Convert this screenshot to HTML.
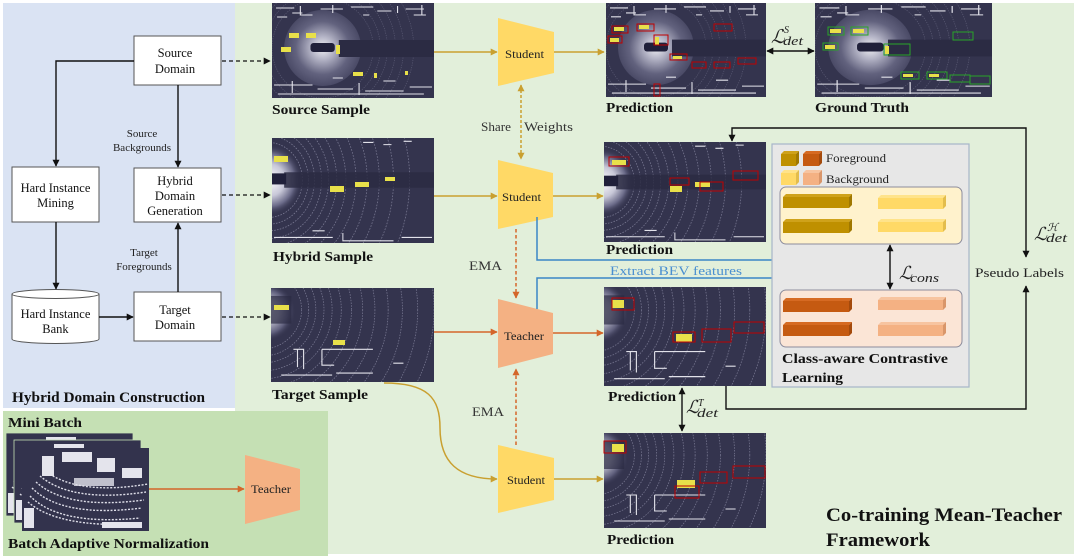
<!DOCTYPE html>
<html><head><meta charset="utf-8">
<style>
html,body{margin:0;padding:0;background:#fff;width:1080px;height:559px;overflow:hidden;}
svg{display:block;position:absolute;left:0;top:0;}
text{font-family:"Liberation Serif","DejaVu Serif",serif;}
.b{font-weight:bold;}
</style></head>
<body>
<svg width="1080" height="559" viewBox="0 0 1080 559" xmlns="http://www.w3.org/2000/svg">
<defs>
  <marker id="mk" viewBox="0 0 10 10" refX="9" refY="5" markerWidth="7" markerHeight="7" orient="auto-start-reverse" markerUnits="userSpaceOnUse"><path d="M0,0 L10,5 L0,10 z" fill="#111"/></marker>
  <marker id="mg" viewBox="0 0 10 10" refX="9" refY="5" markerWidth="7" markerHeight="7" orient="auto-start-reverse" markerUnits="userSpaceOnUse"><path d="M0,0 L10,5 L0,10 z" fill="#c9a030"/></marker>
  <marker id="mo" viewBox="0 0 10 10" refX="9" refY="5" markerWidth="7" markerHeight="7" orient="auto-start-reverse" markerUnits="userSpaceOnUse"><path d="M0,0 L10,5 L0,10 z" fill="#d4662a"/></marker>
  <marker id="mb" viewBox="0 0 10 10" refX="9" refY="5" markerWidth="7" markerHeight="7" orient="auto-start-reverse" markerUnits="userSpaceOnUse"><path d="M0,0 L10,5 L0,10 z" fill="#3b86c6"/></marker>
  <radialGradient id="gS" cx="0.5" cy="0.5" r="0.5">
    <stop offset="0" stop-color="#f0f0f4"/>
    <stop offset="0.3" stop-color="#b4b4c6"/>
    <stop offset="0.7" stop-color="#62627e"/>
    <stop offset="1" stop-color="#4a4a66"/>
  </radialGradient>
  <radialGradient id="gT" gradientUnits="userSpaceOnUse" cx="-2" cy="38" r="32">
    <stop offset="0" stop-color="#ffffff"/>
    <stop offset="0.45" stop-color="#c8c8d8"/>
    <stop offset="0.75" stop-color="#6a6a88"/>
    <stop offset="1" stop-color="#34344e" stop-opacity="0"/>
  </radialGradient>
  <radialGradient id="gU" gradientUnits="userSpaceOnUse" cx="-6" cy="24" r="30">
    <stop offset="0" stop-color="#ffffff"/>
    <stop offset="0.45" stop-color="#c8c8d8"/>
    <stop offset="0.75" stop-color="#6a6a88"/>
    <stop offset="1" stop-color="#34344e" stop-opacity="0"/>
  </radialGradient>

  <pattern id="rS" patternUnits="userSpaceOnUse" x="0" y="0" width="160" height="95">
    <g fill="none" stroke="#8c8ca6" stroke-width="0.6" opacity="0.45" stroke-dasharray="1.2 1.2">
      <circle cx="50" cy="45" r="50"/><circle cx="50" cy="45" r="57"/><circle cx="50" cy="45" r="64"/>
      <circle cx="50" cy="45" r="72"/><circle cx="50" cy="45" r="80"/><circle cx="50" cy="45" r="90"/>
    </g>
  </pattern>
  <pattern id="rT" patternUnits="userSpaceOnUse" x="0" y="0" width="160" height="95">
    <g fill="none" stroke="#a8a8c2" stroke-width="0.7" opacity="0.6" stroke-dasharray="1.5 1.3">
      <circle cx="-4" cy="38" r="34"/><circle cx="-4" cy="38" r="40"/><circle cx="-4" cy="38" r="46"/>
      <circle cx="-4" cy="38" r="53"/><circle cx="-4" cy="38" r="60"/><circle cx="-4" cy="38" r="68"/>
      <circle cx="-4" cy="38" r="77"/><circle cx="-4" cy="38" r="87"/><circle cx="-4" cy="38" r="98"/>
      <circle cx="-4" cy="38" r="110"/><circle cx="-4" cy="38" r="124"/><circle cx="-4" cy="38" r="140"/>
    </g>
  </pattern>
  <pattern id="rU" patternUnits="userSpaceOnUse" x="0" y="0" width="160" height="95">
    <g fill="none" stroke="#a8a8c2" stroke-width="0.7" opacity="0.6" stroke-dasharray="1.5 1.3">
      <circle cx="-10" cy="22" r="40"/><circle cx="-10" cy="22" r="47"/><circle cx="-10" cy="22" r="54"/>
      <circle cx="-10" cy="22" r="62"/><circle cx="-10" cy="22" r="70"/><circle cx="-10" cy="22" r="79"/>
      <circle cx="-10" cy="22" r="89"/><circle cx="-10" cy="22" r="100"/><circle cx="-10" cy="22" r="112"/>
      <circle cx="-10" cy="22" r="125"/><circle cx="-10" cy="22" r="139"/><circle cx="-10" cy="22" r="154"/>
      <circle cx="-10" cy="22" r="170"/>
    </g>
  </pattern>

  <symbol id="pcS" viewBox="0 0 160 95" preserveAspectRatio="none">
    <rect width="160" height="95" fill="#34344e"/>
    <rect width="160" height="95" fill="url(#rS)"/>
    <circle cx="50" cy="45" r="38" fill="url(#gS)"/>
    <rect x="66" y="37" width="94" height="17" fill="#2b2b43"/>
    <rect x="38" y="40" width="24" height="9" rx="3" fill="#20203a"/>
    <g stroke="#e2e2ea" stroke-width="1.1" fill="none">
      <path d="M4,5 H22 M28,3 V12 H40 M48,6 H70 M60,2 V10 M78,4 H100 M104,8 H118 M124,3 V10 M132,6 H150 M148,2 V12"/>
      <path d="M5,14 H15 M20,10 H30 M90,12 H96 M140,12 H152"/>
      <path d="M2,82 H40 M20,78 V90 M45,86 H80 M86,80 V92 M92,88 H130 M136,84 H158 M6,91 H150"/>
      <path d="M110,78 H122 M60,75 H70"/>
    </g>
  </symbol>

  <symbol id="pcT" viewBox="0 0 160 95" preserveAspectRatio="none">
    <rect width="160" height="95" fill="#34344e"/>
    <rect width="160" height="95" fill="url(#rT)"/>
    <rect x="0" y="6" width="30" height="64" fill="url(#gT)"/>
    <rect x="12" y="31" width="148" height="14" fill="#2b2b43" opacity="0.85"/>
    <rect x="0" y="32" width="14" height="10" fill="#20203a"/>
    <g stroke="#e2e2ea" stroke-width="1" fill="none">
      <path d="M2,90 H60 M70,86 V93 H120 M128,90 H158 M40,84 H52 M90,4 H100 M110,6 H118 M130,3 H138"/>
    </g>
  </symbol>

  <symbol id="pcU" viewBox="0 0 160 95" preserveAspectRatio="none">
    <rect width="160" height="95" fill="#34344e"/>
    <rect width="160" height="95" fill="url(#rU)"/>
    <rect x="0" y="0" width="24" height="54" fill="url(#gU)" opacity="0.8"/>
    <rect x="0" y="8" width="20" height="28" fill="#2b2b43" opacity="0.7"/>
    <g stroke="#e2e2ea" stroke-width="1.1" fill="none">
      <path d="M22,62 H32 V82 M26,62 V80 M50,62 H100 M50,62 V78 H62 M10,88 H60 M64,86 H100 M120,76 H130"/>
    </g>
  </symbol>

  <symbol id="pcM" viewBox="0 0 127 83" preserveAspectRatio="none">
    <rect width="127" height="83" fill="#33334d"/>
    <g fill="none" stroke="#dedee8" stroke-width="1.4" stroke-dasharray="2 1.5">
      <path d="M10,40 Q40,70 120,60"/><path d="M14,34 Q45,62 122,52"/><path d="M18,28 Q50,55 124,44"/>
      <path d="M22,22 Q55,48 126,36"/><path d="M8,48 Q38,78 118,70"/><path d="M6,54 Q36,80 116,76"/>
    </g>
    <g fill="#e4e4ec">
      <rect x="40" y="4" width="30" height="10"/><rect x="75" y="10" width="18" height="14"/>
      <rect x="20" y="8" width="12" height="20"/><rect x="100" y="20" width="20" height="10"/>
      <rect x="2" y="60" width="10" height="20"/><rect x="80" y="74" width="40" height="6"/>
      <rect x="52" y="30" width="40" height="8" opacity="0.8"/>
    </g>
  </symbol>
</defs>

<!-- panels -->
<rect x="3" y="3" width="232" height="405" fill="#dae3f3"/>
<rect x="235" y="3" width="839" height="551" fill="#e2efda"/>
<rect x="3" y="411" width="325" height="145" fill="#c5e0b4"/>

<!-- ============ LEFT PANEL ============ -->
<g fill="#fff" stroke="#555" stroke-width="1">
  <rect x="134" y="36" width="87" height="49"/>
  <rect x="12" y="167" width="87" height="55"/>
  <rect x="134" y="168" width="87" height="54"/>
  <rect x="134" y="292" width="87" height="49"/>
  <path d="M12,294 A43.5,4.5 0 0 1 99,294 L99,339 A43.5,4.5 0 0 1 12,339 Z"/>
  <path d="M12,294 A43.5,4.5 0 0 0 99,294" fill="none"/>
</g>
<g fill="#111" font-size="12.5" text-anchor="middle">
  <text x="175" y="57">Source</text>
  <text x="175" y="73">Domain</text>
  <text x="55.5" y="192">Hard Instance</text>
  <text x="55.5" y="207">Mining</text>
  <text x="175" y="185">Hybrid</text>
  <text x="175" y="200">Domain</text>
  <text x="175" y="215">Generation</text>
  <text x="55.5" y="318">Hard Instance</text>
  <text x="55.5" y="333">Bank</text>
  <text x="175" y="314">Target</text>
  <text x="175" y="329">Domain</text>
</g>
<g fill="#222" font-size="11" text-anchor="middle">
  <text x="142" y="137">Source</text>
  <text x="142" y="151">Backgrounds</text>
  <text x="144" y="256">Target</text>
  <text x="144" y="270">Foregrounds</text>
</g>
<g fill="none" stroke="#111" stroke-width="1.4">
  <path d="M134,61 H56 V166" marker-end="url(#mk)"/>
  <path d="M178,85 V167" marker-end="url(#mk)"/>
  <path d="M56,222 V289" marker-end="url(#mk)"/>
  <path d="M99,317 H133" marker-end="url(#mk)"/>
  <path d="M178,292 V223" marker-end="url(#mk)"/>
</g>
<g fill="none" stroke="#111" stroke-width="1.3" stroke-dasharray="4 3">
  <path d="M222,61 H270" marker-end="url(#mk)"/>
  <path d="M222,195 H270" marker-end="url(#mk)"/>
  <path d="M222,317 H270" marker-end="url(#mk)"/>
</g>
<text class="b" x="12" y="402" font-size="14.5" fill="#111" textLength="193" lengthAdjust="spacingAndGlyphs">Hybrid Domain Construction</text>

<!-- ============ BOTTOM-LEFT (BAN) ============ -->
<text class="b" x="8" y="427" font-size="14" fill="#111" textLength="74" lengthAdjust="spacingAndGlyphs">Mini Batch</text>
<use href="#pcM" x="6" y="433" width="127" height="83"/>
<rect x="6" y="433" width="127" height="83" fill="none" stroke="#c5e0b4" stroke-width="0.8"/>
<use href="#pcM" x="14" y="440" width="127" height="83"/>
<rect x="14" y="440" width="127" height="83" fill="none" stroke="#c5e0b4" stroke-width="0.8"/>
<use href="#pcM" x="22" y="448" width="127" height="83"/>
<path d="M149,489 H244" stroke="#d4662a" stroke-width="1.5" fill="none" marker-end="url(#mo)"/>
<polygon points="245,455 300,469 300,510 245,524" fill="#f4b183"/>
<text x="251" y="493" font-size="11.5" fill="#222" textLength="40" lengthAdjust="spacingAndGlyphs">Teacher</text>
<text class="b" x="8" y="548" font-size="14" fill="#111" textLength="201" lengthAdjust="spacingAndGlyphs">Batch Adaptive Normalization</text>

<!-- ============ SAMPLES ============ -->
<use href="#pcS" x="272" y="3" width="162" height="95"/>
<g fill="#e8e04a">
  <rect x="289" y="33" width="10" height="5"/><rect x="306" y="33" width="10" height="5"/>
  <rect x="281" y="47" width="10" height="5"/><rect x="336" y="45" width="4" height="9"/>
  <rect x="353" y="72" width="10" height="4"/><rect x="374" y="73" width="3" height="5"/><rect x="405" y="71" width="3" height="4"/>
</g>
<text class="b" x="272" y="114" font-size="14" fill="#111" textLength="98" lengthAdjust="spacingAndGlyphs">Source Sample</text>

<use href="#pcT" x="272" y="138" width="162" height="105"/>
<g fill="#e8e04a">
  <rect x="274" y="156" width="14" height="6"/><rect x="330" y="186" width="14" height="6"/>
  <rect x="355" y="182" width="14" height="5"/><rect x="385" y="177" width="10" height="4"/>
</g>
<text class="b" x="273" y="261" font-size="14" fill="#111" textLength="100" lengthAdjust="spacingAndGlyphs">Hybrid Sample</text>

<use href="#pcU" x="271" y="288" width="163" height="94"/>
<g fill="#e8e04a">
  <rect x="274" y="305" width="15" height="5"/><rect x="333" y="340" width="12" height="5"/>
</g>
<text class="b" x="272" y="399" font-size="14" fill="#111" textLength="96" lengthAdjust="spacingAndGlyphs">Target Sample</text>

<!-- ============ NETWORKS ============ -->
<polygon points="498,18 554,32 554,73 498,86" fill="#ffd966"/>
<text x="505" y="58" font-size="12" fill="#222" textLength="39" lengthAdjust="spacingAndGlyphs">Student</text>
<polygon points="498,160 553,173 553,217 498,229" fill="#ffd966"/>
<text x="502" y="201" font-size="12" fill="#222" textLength="39" lengthAdjust="spacingAndGlyphs">Student</text>
<polygon points="498,299 553,313 553,354 498,368" fill="#f4b183"/>
<text x="504" y="340" font-size="12" fill="#222" textLength="40" lengthAdjust="spacingAndGlyphs">Teacher</text>
<polygon points="498,445 554,458 554,500 498,513" fill="#ffd966"/>
<text x="507" y="484" font-size="12" fill="#222" textLength="38" lengthAdjust="spacingAndGlyphs">Student</text>

<g fill="none" stroke-width="1.5">
  <path d="M434,52 H497" stroke="#c9a030" marker-end="url(#mg)"/>
  <path d="M554,52 H604" stroke="#c9a030" marker-end="url(#mg)"/>
  <path d="M434,196 H497" stroke="#c9a030" marker-end="url(#mg)"/>
  <path d="M553,196 H603" stroke="#c9a030" marker-end="url(#mg)"/>
  <path d="M434,332 H497" stroke="#d4662a" marker-end="url(#mo)"/>
  <path d="M553,333 H603" stroke="#d4662a" marker-end="url(#mo)"/>
  <path d="M384,383 C428,383 440,398 440,428 C440,462 458,479 497,479" stroke="#c9a030" marker-end="url(#mg)"/>
  <path d="M554,479 H603" stroke="#c9a030" marker-end="url(#mg)"/>
</g>
<path d="M521,85 V159" stroke="#c9a030" stroke-width="1.5" stroke-dasharray="3 2" fill="none" marker-start="url(#mg)" marker-end="url(#mg)"/>
<text x="481" y="131" font-size="13" fill="#333" textLength="30" lengthAdjust="spacingAndGlyphs">Share</text>
<text x="524" y="131" font-size="13" fill="#333" textLength="49" lengthAdjust="spacingAndGlyphs">Weights</text>
<path d="M516,229 V298" stroke="#d4662a" stroke-width="1.5" stroke-dasharray="3.5 2.5" fill="none" marker-end="url(#mo)"/>
<path d="M516,445 V369" stroke="#d4662a" stroke-width="1.5" stroke-dasharray="3.5 2.5" fill="none" marker-end="url(#mo)"/>
<text x="469" y="270" font-size="13" fill="#333" textLength="33" lengthAdjust="spacingAndGlyphs">EMA</text>
<text x="472" y="416" font-size="13" fill="#333" textLength="32" lengthAdjust="spacingAndGlyphs">EMA</text>

<g fill="none" stroke="#3b86c6" stroke-width="1.5">
  <path d="M537,217 V260 H871 V246" marker-end="url(#mb)"/>
  <path d="M537,309 V278 H871 V289" marker-end="url(#mb)"/>
</g>
<text x="610" y="275" font-size="13" fill="#4a8fd0" textLength="132" lengthAdjust="spacingAndGlyphs">Extract BEV features</text>

<!-- ============ PREDICTIONS ============ -->
<use href="#pcS" x="606" y="3" width="160" height="94"/>
<g fill="#e8e04a">
  <rect x="614" y="27" width="10" height="4"/><rect x="639" y="25" width="10" height="4"/><rect x="610" y="38" width="9" height="4"/>
  <rect x="655" y="37" width="4" height="8"/><rect x="673" y="56" width="9" height="3"/>
</g>
<g fill="none" stroke="#c00000" stroke-width="1">
  <rect x="612" y="26" width="16" height="7"/><rect x="637" y="24" width="17" height="7"/><rect x="608" y="36" width="14" height="7"/>
  <rect x="654" y="35" width="14" height="10"/><rect x="670" y="54" width="17" height="6"/><rect x="692" y="62" width="14" height="6"/>
  <rect x="714" y="62" width="16" height="6"/><rect x="738" y="58" width="18" height="6"/><rect x="714" y="24" width="18" height="7"/>
  <rect x="654" y="84" width="6" height="12"/>
</g>
<text class="b" x="606" y="112" font-size="14" fill="#111" textLength="67" lengthAdjust="spacingAndGlyphs">Prediction</text>

<use href="#pcS" x="815" y="3" width="177" height="94"/>
<g fill="#e8e04a">
  <rect x="830" y="29" width="11" height="4"/><rect x="853" y="29" width="11" height="4"/><rect x="825" y="45" width="10" height="4"/>
  <rect x="885" y="46" width="4" height="8"/><rect x="903" y="74" width="10" height="3"/><rect x="929" y="74" width="10" height="3"/>
</g>
<g fill="none" stroke="#28a428" stroke-width="1">
  <rect x="828" y="27" width="16" height="8"/><rect x="851" y="27" width="17" height="8"/><rect x="823" y="43" width="15" height="7"/>
  <rect x="884" y="44" width="26" height="11"/><rect x="953" y="32" width="20" height="8"/><rect x="901" y="72" width="18" height="7"/>
  <rect x="927" y="72" width="20" height="7"/><rect x="950" y="75" width="20" height="7"/><rect x="970" y="76" width="20" height="8"/>
</g>
<text class="b" x="815" y="112" font-size="14" fill="#111" textLength="94" lengthAdjust="spacingAndGlyphs">Ground Truth</text>

<path d="M767,51 H814" stroke="#111" stroke-width="1.4" fill="none" marker-start="url(#mk)" marker-end="url(#mk)"/>
<text x="771" y="43" font-size="19" font-style="italic" fill="#222">ℒ</text>
<text x="783" y="45" font-size="13" font-style="italic" fill="#222" textLength="20" lengthAdjust="spacingAndGlyphs">det</text>
<text x="784" y="33" font-size="10" font-style="italic" fill="#222">S</text>

<use href="#pcT" x="604" y="142" width="162" height="100"/>
<g fill="#e8e04a">
  <rect x="612" y="160" width="14" height="5"/><rect x="670" y="186" width="12" height="6"/><rect x="695" y="182" width="15" height="5"/>
</g>
<g fill="none" stroke="#c00000" stroke-width="1">
  <rect x="609" y="157" width="20" height="9"/><rect x="670" y="178" width="19" height="7"/>
  <rect x="700" y="182" width="23" height="9"/><rect x="733" y="171" width="25" height="9"/>
</g>
<text class="b" x="606" y="254" font-size="14" fill="#111" textLength="67" lengthAdjust="spacingAndGlyphs">Prediction</text>

<use href="#pcU" x="604" y="287" width="162" height="99"/>
<g fill="#e8e04a">
  <rect x="612" y="300" width="12" height="8"/><rect x="676" y="334" width="16" height="8"/>
</g>
<g fill="none" stroke="#c00000" stroke-width="1">
  <rect x="612" y="298" width="22" height="12"/><rect x="673" y="332" width="22" height="10"/>
  <rect x="702" y="329" width="29" height="13"/><rect x="734" y="322" width="30" height="11"/>
</g>
<text class="b" x="608" y="401" font-size="13.5" fill="#111" textLength="68" lengthAdjust="spacingAndGlyphs">Prediction</text>

<use href="#pcU" x="604" y="433" width="162" height="95"/>
<g fill="#e8e04a">
  <rect x="612" y="444" width="12" height="8"/><rect x="677" y="480" width="18" height="8"/>
</g>
<g fill="none" stroke="#c00000" stroke-width="1">
  <rect x="604" y="441" width="22" height="12"/><rect x="675" y="486" width="24" height="12"/>
  <rect x="700" y="472" width="27" height="11"/><rect x="733" y="466" width="32" height="12"/>
</g>
<text class="b" x="607" y="544" font-size="13.5" fill="#111" textLength="67" lengthAdjust="spacingAndGlyphs">Prediction</text>

<path d="M682,388 V431" stroke="#111" stroke-width="1.4" fill="none" marker-start="url(#mk)" marker-end="url(#mk)"/>
<text x="686" y="413" font-size="18" font-style="italic" fill="#222">ℒ</text>
<text x="697" y="417" font-size="13" font-style="italic" fill="#222" textLength="21" lengthAdjust="spacingAndGlyphs">det</text>
<text x="698" y="406" font-size="10" font-style="italic" fill="#222">T</text>

<path d="M1026,257 V128 H732 V141" stroke="#111" stroke-width="1.4" fill="none" marker-start="url(#mk)" marker-end="url(#mk)"/>
<path d="M726,386 V409 H1026 V286" stroke="#111" stroke-width="1.4" fill="none" marker-end="url(#mk)"/>
<text x="975" y="277" font-size="13" fill="#222" textLength="89" lengthAdjust="spacingAndGlyphs">Pseudo Labels</text>
<text x="1034" y="240" font-size="18" font-style="italic" fill="#222">ℒ</text>
<text x="1046" y="242" font-size="13" font-style="italic" fill="#222" textLength="21" lengthAdjust="spacingAndGlyphs">det</text>
<text x="1047" y="231" font-size="11" font-style="italic" fill="#222">ℋ</text>

<!-- ============ CONTRASTIVE BOX ============ -->
<rect x="772" y="144" width="197" height="243" fill="#e7e7e7" stroke="#a7b6c9" stroke-width="1.2"/>
<g>
  <rect x="781" y="154" width="15" height="12" fill="#bf9000"/>
  <polygon points="781,154 784,151 799,151 796,154" fill="#cfa21a"/>
  <polygon points="796,154 799,151 799,163 796,166" fill="#a07800"/>
  <rect x="803" y="154" width="16" height="12" fill="#c55a11"/>
  <polygon points="803,154 806,151 822,151 819,154" fill="#d66a22"/>
  <polygon points="819,154 822,151 822,163 819,166" fill="#a44a0c"/>
  <rect x="781" y="173" width="15" height="12" fill="#ffd966"/>
  <polygon points="781,173 784,170 799,170 796,173" fill="#ffe38a"/>
  <polygon points="796,173 799,170 799,182 796,185" fill="#e3bd4c"/>
  <rect x="803" y="173" width="16" height="12" fill="#f4b183"/>
  <polygon points="803,173 806,170 822,170 819,173" fill="#f7c4a0"/>
  <polygon points="819,173 822,170 822,182 819,185" fill="#d9966a"/>
</g>
<text x="826" y="162" font-size="12" fill="#222" textLength="60" lengthAdjust="spacingAndGlyphs">Foreground</text>
<text x="826" y="183" font-size="12" fill="#222" textLength="63" lengthAdjust="spacingAndGlyphs">Background</text>

<rect x="780" y="187" width="182" height="57" rx="6" fill="#fff2cc" stroke="#8c8c9c" stroke-width="1"/>
<g>
  <rect x="783" y="197" width="66" height="11" fill="#bf9000"/>
  <polygon points="783,197 786,194 852,194 849,197" fill="#cfa21a"/>
  <polygon points="849,197 852,194 852,205 849,208" fill="#a07800"/>
  <rect x="783" y="222" width="66" height="11" fill="#bf9000"/>
  <polygon points="783,222 786,219 852,219 849,222" fill="#cfa21a"/>
  <polygon points="849,222 852,219 852,230 849,233" fill="#a07800"/>
  <rect x="878" y="198" width="65" height="11" fill="#ffd966"/>
  <polygon points="878,198 881,195 946,195 943,198" fill="#ffe38a"/>
  <polygon points="943,198 946,195 946,206 943,209" fill="#e3bd4c"/>
  <rect x="878" y="222" width="65" height="10" fill="#ffd966"/>
  <polygon points="878,222 881,219 946,219 943,222" fill="#ffe38a"/>
  <polygon points="943,222 946,219 946,229 943,232" fill="#e3bd4c"/>
</g>

<rect x="780" y="290" width="182" height="57" rx="6" fill="#fbe5d6" stroke="#8c8c9c" stroke-width="1"/>
<g>
  <rect x="783" y="301" width="66" height="11" fill="#c55a11"/>
  <polygon points="783,301 786,298 852,298 849,301" fill="#d66a22"/>
  <polygon points="849,301 852,298 852,309 849,312" fill="#a44a0c"/>
  <rect x="783" y="325" width="66" height="11" fill="#c55a11"/>
  <polygon points="783,325 786,322 852,322 849,325" fill="#d66a22"/>
  <polygon points="849,325 852,322 852,333 849,336" fill="#a44a0c"/>
  <rect x="878" y="300" width="65" height="10" fill="#f4b183"/>
  <polygon points="878,300 881,297 946,297 943,300" fill="#f7c4a0"/>
  <polygon points="943,300 946,297 946,307 943,310" fill="#d9966a"/>
  <rect x="878" y="325" width="65" height="11" fill="#f4b183"/>
  <polygon points="878,325 881,322 946,322 943,325" fill="#f7c4a0"/>
  <polygon points="943,325 946,322 946,333 943,336" fill="#d9966a"/>
</g>
<text class="b" x="782" y="363" font-size="14" fill="#111" textLength="166" lengthAdjust="spacingAndGlyphs">Class-aware  Contrastive</text>
<text class="b" x="782" y="382" font-size="14" fill="#111" textLength="61" lengthAdjust="spacingAndGlyphs">Learning</text>

<path d="M890,245 V289" stroke="#111" stroke-width="1.4" fill="none" marker-start="url(#mk)" marker-end="url(#mk)"/>
<text x="899" y="279" font-size="18" font-style="italic" fill="#222">ℒ</text>
<text x="910" y="282" font-size="13" font-style="italic" fill="#222" textLength="29" lengthAdjust="spacingAndGlyphs">cons</text>

<text class="b" x="826" y="521" font-size="19" fill="#111" textLength="236" lengthAdjust="spacingAndGlyphs">Co-training Mean-Teacher</text>
<text class="b" x="826" y="546" font-size="19" fill="#111" textLength="104" lengthAdjust="spacingAndGlyphs">Framework</text>
</svg>
</body></html>
